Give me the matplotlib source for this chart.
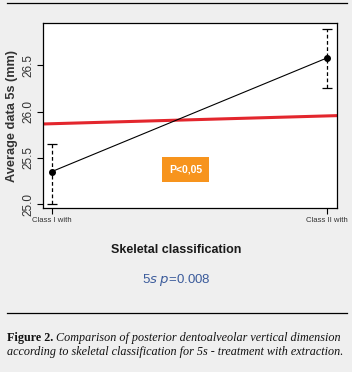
import matplotlib as mpl
mpl.use('Agg')
import matplotlib.pyplot as plt
from matplotlib.lines import Line2D

# data
groups = ['Class I with', 'Class II with']
means = [25.353, 26.58]
upper = [25.65, 26.89]
lower = [25.007, 26.258]
ref_line = [25.867, 25.957]   # red reference line at left / right edge
xlim = (0.967, 2.035)
ylim = (24.957, 26.96)
yticks = [25.0, 25.5, 26.0, 26.5]

narrow = ['Liberation Sans', 'DejaVu Sans']
bg = '#efefef'

fig = plt.figure(figsize=(3.52, 3.72), dpi=100, facecolor=bg)
W, H = 352, 372

ax = fig.add_axes([42.7 / W, 1 - 208.3 / H, (336.7 - 42.7) / W, (208.3 - 22.7) / H])
ax.set_facecolor('white')
x = [1, 2]
ax.plot(x, means, color='black', lw=0.8, zorder=3)
ax.plot(x, means, 'o', color='black', ms=4, zorder=4)
err = [[m - l for m, l in zip(means, lower)], [u - m for m, u in zip(means, upper)]]
eb = ax.errorbar(x, means, yerr=err, fmt='none', ecolor='black', elinewidth=0.9,
                 capsize=3.5, capthick=0.9, zorder=3)
eb[2][0].set_linestyle((0, (3, 2)))
ax.plot(xlim, ref_line, color='#e3262d', lw=2.2, zorder=2)
ax.set_xlim(*xlim)
ax.set_ylim(*ylim)

ax.set_xticks(x)
ax.set_xticklabels(groups, fontsize=5.6, family=narrow)
ax.set_yticks(yticks)
ax.set_yticklabels(['%.1f' % v for v in yticks], rotation=90, va='center',
                   fontsize=8.5, family=narrow)
ax.tick_params(axis='both', length=4, width=0.8, pad=2, colors='black')
for lab in ax.get_xticklabels() + ax.get_yticklabels():
    lab.set_color('#333333')
for s in ax.spines.values():
    s.set_linewidth(0.9)

ax.set_ylabel('Average data 5s (mm)', fontsize=9.2, family=narrow,
              fontweight='bold', color='#333333', labelpad=3)

ax.text(0.486, 0.209, 'P<0,05', transform=ax.transAxes, ha='center', va='center',
        fontsize=7.5, family=narrow, fontweight='bold', color='white',
        bbox=dict(boxstyle='square,pad=0.7', fc='#f7941d', ec='none'))

fig.text(0.5, 1 - 250 / H, 'Skeletal classification', ha='center', va='center',
         fontsize=9, family=narrow, fontweight='bold', color='#1a1a1a')
fig.text(0.5, 1 - 280 / H, r'5$\mathit{s}$ $\mathit{p}$=0.008', ha='center', va='center',
         fontsize=9.5, family=narrow, color='#3b5b9b')

# horizontal rules
fig.add_artist(Line2D([7 / W, 347 / W], [1 - 2.5 / H, 1 - 2.5 / H], color='black', lw=0.9))
fig.add_artist(Line2D([7 / W, 347 / W], [1 - 313 / H, 1 - 313 / H], color='black', lw=0.9))

serif = ['Liberation Serif', 'DejaVu Serif']
cap_size = 8.7
t1 = fig.text(7 / W, 1 - 338 / H, 'Figure 2. ', ha='left', va='center', fontsize=cap_size,
              family=serif, fontweight='bold', color='#111111')
fig.canvas.draw()
bb = t1.get_window_extent()
fig.text(bb.x1 / W, 1 - 338 / H, 'Comparison of posterior dentoalveolar vertical dimension',
         ha='left', va='center', fontsize=cap_size, family=serif, style='italic', color='#111111')
fig.text(7 / W, 1 - 352 / H, 'according to skeletal classification for 5s - treatment with extraction.',
         ha='left', va='center', fontsize=cap_size, family=serif, style='italic', color='#111111')

fig.savefig('out.png', dpi=100, facecolor=bg)
